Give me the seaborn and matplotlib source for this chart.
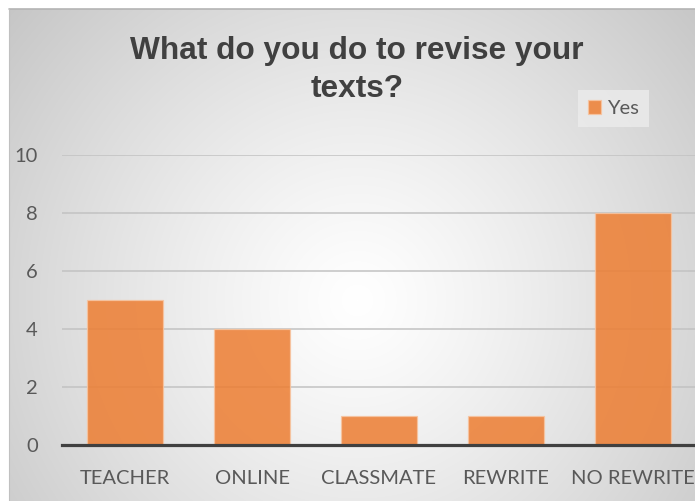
import numpy as np
import pandas as pd
import matplotlib
matplotlib.use("Agg")
import matplotlib.pyplot as plt
import seaborn as sns

# Survey answers: how students revise their texts
categories = ["TEACHER", "ONLINE", "CLASSMATE", "REWRITE", "NO REWRITE"]
yes_counts = [5, 4, 1, 1, 8]
series_name = "Yes"
y_ticks = [0, 2, 4, 6, 8, 10]
title_lines = ["What do you do to revise your", "texts?"]

df = pd.DataFrame({"category": categories, "count": yes_counts,
                   "response": [series_name] * len(categories)})

W, H, DPI = 695, 501, 100
sns.set_theme(style="white")
plt.rcParams["font.family"] = ["Lato", "DejaVu Sans"]

fig = plt.figure(figsize=(W / DPI, H / DPI), dpi=DPI)

# Chart-area background: radial grey-to-white gradient inside a frame
bg = fig.add_axes([0, 0, 1, 1], zorder=-10)
yy, xx = np.mgrid[0:H, 0:W]
cx, cy = 357, 300
d = np.hypot(xx - cx, yy - cy) / 455.0
t = np.clip(d, 0, 1) ** 1.2
shade = 1.0 - t * (255 - 198) / 255.0
img = np.dstack([shade, shade, shade])
frame_x, frame_y = 9, 9
img[:frame_y, :, :] = 1.0
img[:, :frame_x, :] = 1.0
bg.imshow(img, extent=(0, W, H, 0), aspect="auto", interpolation="bilinear")
bg.plot([frame_x, W], [frame_y, frame_y], color="#b4b4b4", lw=1.2)
bg.plot([frame_x, frame_x], [frame_y, H], color="#c0c0c0", lw=0.8)
bg.set_xlim(0, W)
bg.set_ylim(H, 0)
bg.axis("off")

# Plot area
left_px, right_px = 61.5, 696.5
top_px, bottom_px = 155, 445
ax = fig.add_axes([left_px / W, 1 - bottom_px / H,
                   (right_px - left_px) / W, (bottom_px - top_px) / H])
ax.set_facecolor("none")

sns.barplot(data=df, x="category", y="count", hue="response",
            palette=["#ED7D31"], saturation=1, width=0.6, dodge=False,
            alpha=0.85, edgecolor="#F7C4A0", linewidth=0.9, ax=ax, zorder=3)

ax.set_xlim(-0.5, len(categories) - 0.5)
ax.set_ylim(0, 10)
ax.set_yticks(y_ticks)
ax.set_xlabel("")
ax.set_ylabel("")
ax.yaxis.grid(True, color="#c2c2c2", linewidth=1.1, zorder=1)
ax.set_axisbelow(True)
for s in ["left", "right", "top"]:
    ax.spines[s].set_visible(False)
ax.spines["bottom"].set_color("#404040")
ax.spines["bottom"].set_linewidth(2.3)
ax.spines["bottom"].set_zorder(5)
ax.tick_params(axis="y", length=0, pad=17, labelsize=14.5, labelcolor="#595959")
ax.tick_params(axis="x", length=0, pad=18, labelsize=14.5, labelcolor="#595959")

# Legend box to the upper right
handles, labels = ax.get_legend_handles_labels()
if ax.get_legend() is not None:
    ax.get_legend().remove()
leg = fig.legend(handles, labels, loc="center",
                 bbox_to_anchor=(613.5 / W, 1 - 108.5 / H),
                 bbox_transform=fig.transFigure, frameon=True,
                 fontsize=14.5, handlelength=0.65, handleheight=0.65,
                 handletextpad=0.3, borderpad=0.5, fancybox=False)
leg.get_frame().set_facecolor("#ececec")
leg.get_frame().set_edgecolor("none")
leg.get_frame().set_alpha(0.8)
for txt in leg.get_texts():
    txt.set_color("#595959")

# Two-line bold title
for line, base_px in zip(title_lines, [59, 97]):
    fig.text(357 / W, 1 - base_px / H, line, ha="center", va="baseline",
             fontsize=22.8, fontweight="bold", color="#404040",
             family=["Liberation Sans", "DejaVu Sans"])

fig.savefig("out.png", dpi=DPI)
